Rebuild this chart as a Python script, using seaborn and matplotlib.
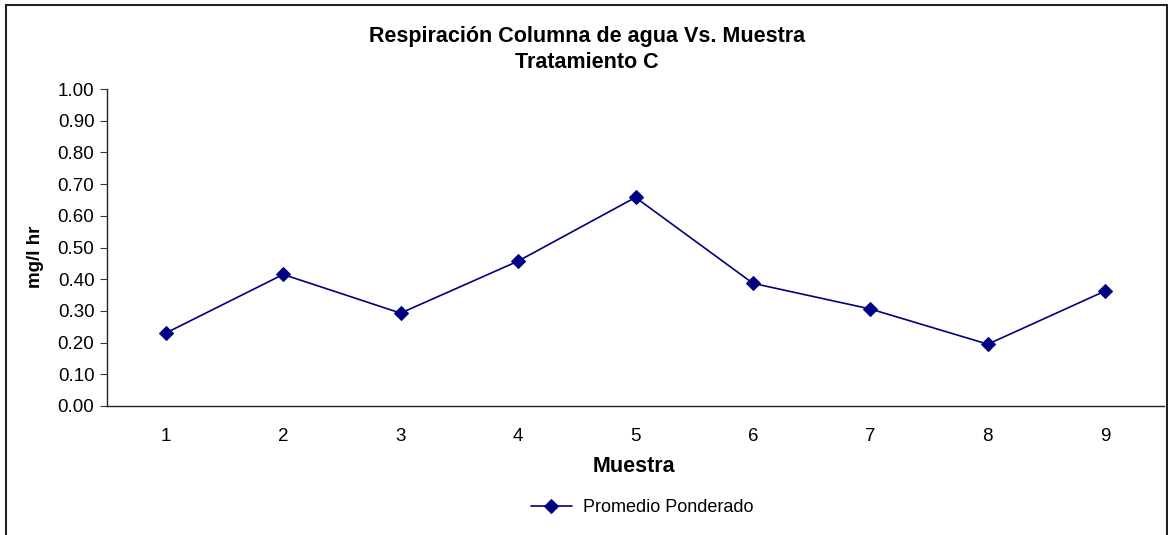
import matplotlib
matplotlib.use("Agg")
import matplotlib.pyplot as plt
import seaborn as sns
import pandas as pd
from matplotlib.patches import Rectangle

muestra = [1, 2, 3, 4, 5, 6, 7, 8, 9]
promedio_ponderado = [0.23, 0.415, 0.293, 0.457, 0.658, 0.387, 0.306, 0.195, 0.363]
yticks = [0.0, 0.1, 0.2, 0.3, 0.4, 0.5, 0.6, 0.7, 0.8, 0.9, 1.0]

sns.set_theme(style="white")
plt.rcParams['font.family'] = ['Liberation Sans', 'DejaVu Sans']
plt.rcParams['text.color'] = 'black'

W, H = 1168, 535
fig = plt.figure(figsize=(W / 100, H / 100), dpi=100)
ax = fig.add_axes([107 / W, 1 - 406 / H, (1164 - 107) / W, (406 - 89) / H])

df = pd.DataFrame({"Muestra": muestra, "Valor": promedio_ponderado})
sns.lineplot(data=df, x="Muestra", y="Valor", ax=ax, color="#000080",
             marker="D", markersize=7, markeredgecolor="#000080",
             linewidth=1.2, label="Promedio Ponderado", legend=False)

ax.set_xlim(0.5, 9.5)
ax.set_ylim(0, 1.0)
ax.set_yticks(yticks)
ax.set_yticklabels([f"{v:.2f}" for v in yticks])
ax.set_xticks(muestra)
ax.set_xticklabels([str(m) for m in muestra])
ax.tick_params(axis="y", which="both", left=True, length=5, width=0.8,
               color="#333333", labelsize=13.5, pad=4, labelcolor="black")
ax.tick_params(axis="x", bottom=False, labelsize=13.5, pad=10, labelcolor="black")
for s in ["top", "right"]:
    ax.spines[s].set_visible(False)
for s in ["left", "bottom"]:
    ax.spines[s].set_color("#222222")
    ax.spines[s].set_linewidth(1.0)
ax.set_xlabel("")
ax.set_ylabel("")

fig.text(587 / W, 1 - 37 / H, "Respiración Columna de agua Vs. Muestra",
         ha="center", va="center", fontsize=15.5, fontweight="bold", color="black")
fig.text(587 / W, 1 - 62 / H, "Tratamiento C",
         ha="center", va="center", fontsize=15.5, fontweight="bold", color="black")
fig.text(634 / W, 1 - 467 / H, "Muestra", ha="center", va="center",
         fontsize=15.5, fontweight="bold", color="black")
fig.text(36 / W, 1 - 257 / H, "mg/l hr", ha="center", va="center",
         fontsize=13.5, fontweight="bold", rotation=90, color="black")

handles, labels = ax.get_legend_handles_labels()
leg = fig.legend(handles, labels, loc="center", bbox_to_anchor=(642 / W, 1 - 508 / H),
                 frameon=False, fontsize=13, handlelength=2.3, handletextpad=0.6)
for t in leg.get_texts():
    t.set_color("black")

fig.patches.append(Rectangle((6 / W, -0.05), (1167 - 6) / W, (1 - 5 / H) + 0.05,
                             transform=fig.transFigure, fill=False,
                             edgecolor="#222222", linewidth=1.5))

fig.savefig("out.png", dpi=100)
